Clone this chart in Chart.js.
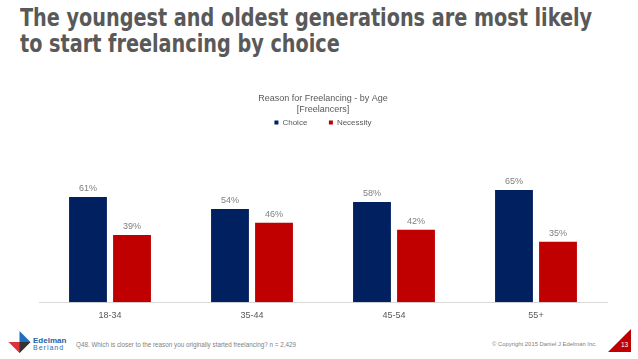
<!DOCTYPE html>
<html>
<head>
<meta charset="utf-8">
<script src="https://cdn.jsdelivr.net/npm/chart.js@4/dist/chart.umd.min.js"></script>
<style>
  body { margin: 0; width: 638px; height: 359px; background: #fff; position: relative; overflow: hidden; font-family: "Liberation Sans", Arial, sans-serif; }
  #title { position: absolute; left: 20px; top: 5px; font-family: "Liberation Sans Narrow", "DejaVu Sans Condensed", sans-serif; font-weight: bold; font-size: 25px; line-height: 26px; color: #595959; transform: scaleX(0.855); transform-origin: 0 0; white-space: nowrap; }
  #chartBox { position: absolute; left: 0; top: 85px; width: 638px; height: 242px; }
  .foot { position: absolute; color: #7f7f7f; top: 341px; white-space: nowrap; }
  #logo1 { position: absolute; left: 8px; top: 331px; width: 23px; height: 22px; }
  #brand { position: absolute; left: 33px; top: 337px; font-size: 8px; line-height: 7px; color: #1f5fa8; font-weight: bold; }
  #brand span { display: block; font-weight: normal; color: #2b6cb0; letter-spacing: 1px; font-size: 7px; }
  #page { position: absolute; left: 608px; top: 329px; width: 23px; height: 23px; background: #c00000; clip-path: polygon(100% 0, 100% 100%, 0 100%); }
  #pageNum { position: absolute; left: 621px; top: 341px; font-size: 6.5px; color: #fff; }
</style>
</head>
<body>
<div id="title">The youngest and oldest generations are most likely<br>to start freelancing by choice</div>
<div id="chartBox"><canvas id="chart"></canvas></div>

<svg id="logo1" viewBox="0 0 22 22">
  <polygon points="11,0 22,11 11,11" fill="#1f6fc0"/>
  <polygon points="0,11 22,11 11,22" fill="#e0303a"/>
  <polygon points="11,11 22,11 11,22" fill="#333"/>
</svg>
<div id="brand">Edelman<span>Berland</span></div>
<div class="foot" style="left:76px; font-size:6.3px;">Q48. Which is closer to the reason you originally started freelancing? n = 2,429</div>
<div class="foot" style="left:492px; font-size:5.9px;">© Copyright 2015 Daniel J Edelman Inc.</div>
<div id="page"></div>
<div id="pageNum">13</div>

<script>
// Chart data
const ageGroups = ['18-34', '35-44', '45-54', '55+'];
const choice = [61, 54, 58, 65];
const necessity = [39, 46, 42, 35];

// Draw percentage labels above each bar
const valueLabels = {
  id: 'valueLabels',
  afterDatasetsDraw(chart) {
    const ctx = chart.ctx;
    ctx.save();
    ctx.font = '9px "Liberation Sans", Arial, sans-serif';
    ctx.fillStyle = '#7f7f7f';
    ctx.textAlign = 'center';
    ctx.textBaseline = 'bottom';
    chart.data.datasets.forEach((ds, i) => {
      chart.getDatasetMeta(i).data.forEach((bar, j) => {
        ctx.fillText(ds.data[j] + '%', bar.x, bar.y - 4);
      });
    });
    ctx.restore();
  }
};

const ctx = document.getElementById('chart').getContext('2d');
const chart = new Chart(ctx, {
  type: 'bar',
  data: {
    labels: ageGroups,
    datasets: [
      { label: 'Choice', data: choice, backgroundColor: '#002060' },
      { label: 'Necessity', data: necessity, backgroundColor: '#c00000' }
    ]
  },
  options: {
    responsive: true,
    maintainAspectRatio: false,
    animation: false,
    datasets: { bar: { categoryPercentage: 0.62, barPercentage: 0.86 } },
    layout: { padding: { left: 39, right: 31, top: 8, bottom: 6 } },
    plugins: {
      title: {
        display: true,
        text: ['Reason for Freelancing - by Age', '[Freelancers]'],
        color: '#595959',
        font: { size: 9, family: '"Liberation Sans", Arial, sans-serif', weight: 'normal', lineHeight: 1.25 },
        padding: { top: 0, bottom: -3 }
      },
      legend: {
        display: true,
        labels: {
          color: '#595959',
          boxWidth: 4,
          boxHeight: 4,
          padding: 6,
          font: { size: 8, family: '"Liberation Sans", Arial, sans-serif' },
          // widen the gap between the two legend entries
          generateLabels(chart) {
            const items = Chart.defaults.plugins.legend.labels.generateLabels(chart);
            items[0].text = items[0].text + '       ';
            return items;
          }
        }
      },
      tooltip: { enabled: false }
    },
    scales: {
      x: {
        grid: { display: false },
        border: { color: '#d9d9d9' },
        ticks: { color: '#595959', font: { size: 9, family: '"Liberation Sans", Arial, sans-serif' }, padding: 0 }
      },
      y: { display: false, min: 0, max: 96 }
    }
  },
  plugins: [valueLabels]
});
</script>
</body>
</html>
